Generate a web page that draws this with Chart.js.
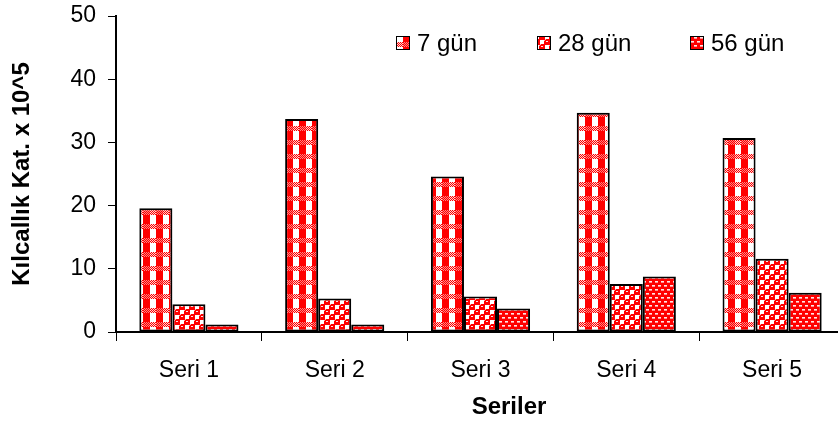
<!DOCTYPE html>
<html lang="tr">
<head>
<meta charset="utf-8">
<title>Kılcallık Katsayısı</title>
<script src="https://cdn.jsdelivr.net/npm/chart.js@4/dist/chart.umd.min.js"></script>
<style>
  html, body { margin: 0; padding: 0; overflow: hidden; background: #fff; }
  #wrap { position: absolute; left: 0; top: 0; width: 850px; height: 432px; }
</style>
</head>
<body>
<div id="wrap"><canvas id="c"></canvas></div>
<script>
// Series names and category labels
const categories = ['Seri 1', 'Seri 2', 'Seri 3', 'Seri 4', 'Seri 5'];
const seriesNames = ['7 gün', '28 gün', '56 gün'];

// Capillarity coefficient (x 10^5) per curing age
const gun7  = [19.6, 33.7, 24.6, 34.7, 30.7];
const gun28 = [4.4, 5.3, 5.6, 7.6, 11.6];
const gun56 = [1.2, 1.2, 3.7, 8.8, 6.2];

// Y axis ticks
const yTicks = [0, 10, 20, 30, 40, 50];

const RED = '#ff0000';
const FONT = "'Liberation Sans', Arial, sans-serif";

// Small tiled fills for the bars
function makeTile(w, h, draw) {
  const c = document.createElement('canvas');
  c.width = w; c.height = h;
  const g = c.getContext('2d');
  draw(g, w, h);
  return document.getElementById('c').getContext('2d').createPattern(c, 'repeat');
}

// gingham: red columns with a fine checkered band
const patGingham = makeTile(13, 14, (g, w, h) => {
  g.fillStyle = '#fff'; g.fillRect(0, 0, w, h);
  g.fillStyle = RED; g.fillRect(0, 5, 7, h - 5);
  for (let y = 0; y < 5; y++) {
    for (let x = 0; x < w; x++) {
      if ((x + y) % 2 === 0) { g.fillStyle = RED; g.fillRect(x, y, 1, 1); }
      else { g.fillStyle = x < 7 ? '#ff8080' : '#ffd6d6'; g.fillRect(x, y, 1, 1); }
    }
  }
});

// red circles between white squares
const patCircles = makeTile(10, 10, (g, w, h) => {
  g.fillStyle = RED; g.fillRect(0, 0, w, h);
  g.fillStyle = '#fff';
  g.fillRect(0, 0, 4, 4);
  g.fillRect(5, 5, 4, 4);
  g.fillStyle = '#ffb0b0';
  g.fillRect(4, 0, 1, 1); g.fillRect(0, 4, 1, 1);
  g.fillRect(9, 5, 1, 1); g.fillRect(5, 9, 1, 1);
  g.fillStyle = '#ffe0e0';
  g.fillRect(6, 1, 2, 1);
  g.fillRect(1, 6, 2, 1);
});

// red with small staggered white dashes
const patDashes = makeTile(6, 8, (g, w, h) => {
  g.fillStyle = RED; g.fillRect(0, 0, w, h);
  g.fillStyle = '#ffe6e6';
  g.fillRect(1, 1, 3, 1);
  g.fillRect(4, 5, 2, 1);
  g.fillRect(0, 5, 1, 1);
  g.fillStyle = '#ff9090';
  g.fillRect(1, 2, 3, 1);
  g.fillRect(4, 6, 2, 1);
  g.fillRect(0, 6, 1, 1);
});

// Legend drawn inside the plot area
const legendInside = {
  id: 'legendInside',
  afterDraw(chart, args, opts) {
    const ctx = chart.ctx;
    ctx.save();
    ctx.font = opts.font;
    ctx.textBaseline = 'middle';
    ctx.textAlign = 'left';
    chart.data.datasets.forEach((ds, i) => {
      const x = opts.x[i], y = opts.y, s = opts.box;
      ctx.fillStyle = ds.backgroundColor;
      ctx.fillRect(x, y, s, s);
      ctx.strokeStyle = '#000';
      ctx.lineWidth = 1;
      ctx.strokeRect(x + 0.5, y + 0.5, s - 1, s - 1);
      ctx.fillStyle = '#000';
      ctx.fillText(ds.label, x + s + 7, y + s / 2 + 1);
    });
    ctx.restore();
  }
};

// Horizontal axis caption, placed a little right of the plot centre
const xCaption = {
  id: 'xCaption',
  afterDraw(chart, args, opts) {
    const ctx = chart.ctx;
    ctx.save();
    ctx.font = opts.font;
    ctx.fillStyle = '#000';
    ctx.textAlign = 'center';
    ctx.textBaseline = 'middle';
    ctx.fillText(opts.text, opts.x, opts.y);
    ctx.restore();
  }
};

const barStyle = { borderColor: '#000', borderWidth: 2, borderSkipped: false };

new Chart(document.getElementById('c'), {
  type: 'bar',
  data: {
    labels: categories,
    datasets: [
      Object.assign({ label: seriesNames[0], data: gun7,  backgroundColor: patGingham }, barStyle),
      Object.assign({ label: seriesNames[1], data: gun28, backgroundColor: patCircles }, barStyle),
      Object.assign({ label: seriesNames[2], data: gun56, backgroundColor: patDashes }, barStyle)
    ]
  },
  options: {
    responsive: true,
    maintainAspectRatio: false,
    animation: false,
    datasets: { bar: { categoryPercentage: 0.68, barPercentage: 1.0 } },
    layout: { padding: { top: 16, right: 5, bottom: 0, left: 0 } },
    plugins: {
      legend: { display: false },
      tooltip: { enabled: false },
      legendInside: { x: [396, 537, 690], y: 36, box: 14, font: '24px ' + FONT },
      xCaption: { text: 'Seriler', x: 509, y: 407, font: 'bold 24px ' + FONT }
    },
    scales: {
      x: {
        offset: true,
        grid: { offset: true, drawOnChartArea: false, drawTicks: true, tickLength: 9, color: '#000', lineWidth: 1 },
        border: { display: true, color: '#000', width: 2 },
        ticks: { color: '#000', font: { family: FONT, size: 23 }, padding: 16, maxRotation: 0 },
        afterFit(scale) {
          scale.height = 100;
          scale.paddingLeft = 0; scale.paddingRight = 0;
        }
      },
      y: {
        min: 0, max: 50,
        afterBuildTicks(scale) { scale.ticks = yTicks.map(v => ({ value: v })); },
        grid: { drawOnChartArea: false, drawTicks: true, tickLength: 8, color: '#000', lineWidth: 1 },
        border: { display: true, color: '#000', width: 2 },
        ticks: { color: '#000', font: { family: FONT, size: 23 }, padding: 12 },
        title: { display: true, text: 'Kılcallık Kat. x 10^5', color: '#000', font: { family: FONT, size: 24, weight: 'bold' }, padding: { top: 8, bottom: 0 } },
        afterFit(scale) {
          scale.width = 116;
          scale.paddingTop = 0; scale.paddingBottom = 0;
        }
      }
    }
  },
  plugins: [legendInside, xCaption]
});
</script>
</body>
</html>
